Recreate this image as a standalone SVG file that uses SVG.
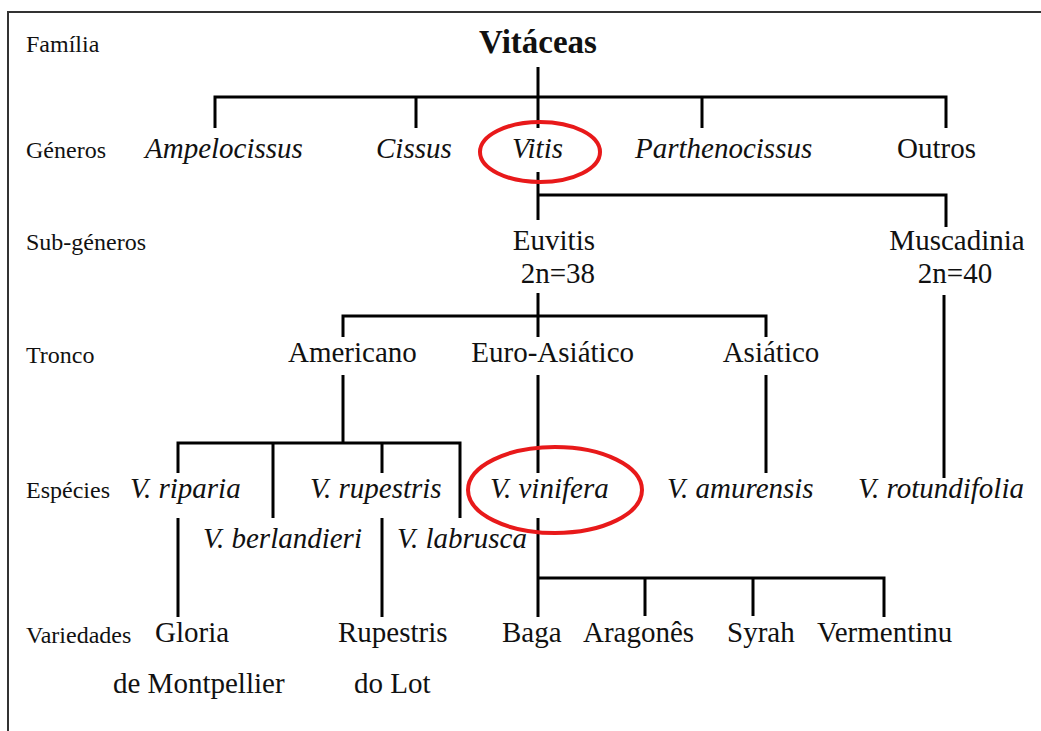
<svg xmlns="http://www.w3.org/2000/svg" width="1041" height="731" viewBox="0 0 1041 731">
<rect x="0" y="0" width="1041" height="731" fill="#fff"/>
<path d="M8,731 V12 H1041" fill="none" stroke="#333" stroke-width="2"/>
<g id="levels" fill="#111">
<text style="font-family:'Liberation Serif',serif;font-size:24px" x="26" y="52">Fam&#237;lia</text>
<text style="font-family:'Liberation Serif',serif;font-size:24px" x="26" y="158">G&#233;neros</text>
<text style="font-family:'Liberation Serif',serif;font-size:24px" x="26" y="250">Sub-g&#233;neros</text>
<text style="font-family:'Liberation Serif',serif;font-size:24px" x="26" y="363">Tronco</text>
<text style="font-family:'Liberation Serif',serif;font-size:24px" x="26" y="498">Esp&#233;cies</text>
<text style="font-family:'Liberation Serif',serif;font-size:24px" x="26" y="643">Variedades</text>
</g>
<g id="connectors" fill="none" stroke="#000" stroke-width="3">
<path d="M538,67 V128"/>
<path d="M215,128 V97 H946 V128"/>
<path d="M416,97 V128 M702,97 V128"/>
<path d="M538,172 V220"/>
<path d="M538,195 H946 V227"/>
<path d="M538,293 V337"/>
<path d="M343,337 V316 H766 V337"/>
<path d="M944,295 V478"/>
<path d="M343,375 V443"/>
<path d="M178,473 V443 H460 V518"/>
<path d="M273,443 V518 M382,443 V473"/>
<path d="M538,375 V473 M766,375 V473"/>
<path d="M178,518 V617 M382,518 V617"/>
<path d="M538,518 V617"/>
<path d="M538,578 H884 V617 M645,578 V616 M753,578 V616"/>
</g>
<g fill="#111">
<g id="n-vitaceas"><text style="font-family:'Liberation Serif',serif;font-size:33px;font-weight:bold" x="538" y="53" text-anchor="middle">Vit&#225;ceas</text></g>
<g id="n-ampelocissus"><text style="font-family:'Liberation Serif',serif;font-size:29px;font-style:italic" x="145" y="158">Ampelocissus</text></g>
<g id="n-cissus"><text style="font-family:'Liberation Serif',serif;font-size:29px;font-style:italic" x="376" y="158">Cissus</text></g>
<g id="n-vitis"><text style="font-family:'Liberation Serif',serif;font-size:29px;font-style:italic" x="512" y="158">Vitis</text><ellipse cx="540" cy="152" rx="60" ry="30" fill="none" stroke="#e8191a" stroke-width="4"/></g>
<g id="n-parthenocissus"><text style="font-family:'Liberation Serif',serif;font-size:29px;font-style:italic" x="635" y="158">Parthenocissus</text></g>
<g id="n-outros"><text style="font-family:'Liberation Serif',serif;font-size:29px" x="897" y="158">Outros</text></g>
<g id="n-euvitis"><text style="font-family:'Liberation Serif',serif;font-size:29px" x="595" y="250" text-anchor="end">Euvitis</text><text style="font-family:'Liberation Serif',serif;font-size:29px" x="595" y="283" text-anchor="end">2n=38</text></g>
<g id="n-muscadinia"><text style="font-family:'Liberation Serif',serif;font-size:29px" x="957" y="250" text-anchor="middle">Muscadinia</text><text style="font-family:'Liberation Serif',serif;font-size:29px" x="955" y="283" text-anchor="middle">2n=40</text></g>
<g id="n-americano"><text style="font-family:'Liberation Serif',serif;font-size:29px" x="288" y="362">Americano</text></g>
<g id="n-euroasiatico"><text style="font-family:'Liberation Serif',serif;font-size:29px" x="634" y="362" text-anchor="end">Euro-Asi&#225;tico</text></g>
<g id="n-asiatico"><text style="font-family:'Liberation Serif',serif;font-size:29px" x="771" y="362" text-anchor="middle">Asi&#225;tico</text></g>
<g id="n-riparia"><text style="font-family:'Liberation Serif',serif;font-size:29px;font-style:italic" x="130" y="498">V. riparia</text></g>
<g id="n-berlandieri"><text style="font-family:'Liberation Serif',serif;font-size:29px;font-style:italic" x="203" y="548">V. berlandieri</text></g>
<g id="n-rupestris"><text style="font-family:'Liberation Serif',serif;font-size:29px;font-style:italic" x="310" y="498">V. rupestris</text></g>
<g id="n-labrusca"><text style="font-family:'Liberation Serif',serif;font-size:29px;font-style:italic" x="397" y="548">V. labrusca</text></g>
<g id="n-vinifera"><text style="font-family:'Liberation Serif',serif;font-size:29px;font-style:italic" x="490" y="498">V. vinifera</text><ellipse cx="555" cy="490" rx="87" ry="43" fill="none" stroke="#e8191a" stroke-width="4"/></g>
<g id="n-amurensis"><text style="font-family:'Liberation Serif',serif;font-size:29px;font-style:italic" x="667" y="498">V. amurensis</text></g>
<g id="n-rotundifolia"><text style="font-family:'Liberation Serif',serif;font-size:29px;font-style:italic" x="858" y="498">V. rotundifolia</text></g>
<g id="n-gloria"><text style="font-family:'Liberation Serif',serif;font-size:29px" x="155" y="642">Gloria</text><text style="font-family:'Liberation Serif',serif;font-size:29px" x="113" y="693">de Montpellier</text></g>
<g id="n-rupestrisdolot"><text style="font-family:'Liberation Serif',serif;font-size:29px" x="338" y="642">Rupestris</text><text style="font-family:'Liberation Serif',serif;font-size:29px" x="354" y="693">do Lot</text></g>
<g id="n-baga"><text style="font-family:'Liberation Serif',serif;font-size:29px" x="502" y="642">Baga</text></g>
<g id="n-aragones"><text style="font-family:'Liberation Serif',serif;font-size:29px" x="583" y="642">Aragon&#234;s</text></g>
<g id="n-syrah"><text style="font-family:'Liberation Serif',serif;font-size:29px" x="727" y="642">Syrah</text></g>
<g id="n-vermentinu"><text style="font-family:'Liberation Serif',serif;font-size:29px" x="817" y="642">Vermentinu</text></g>
</g>
</svg>
